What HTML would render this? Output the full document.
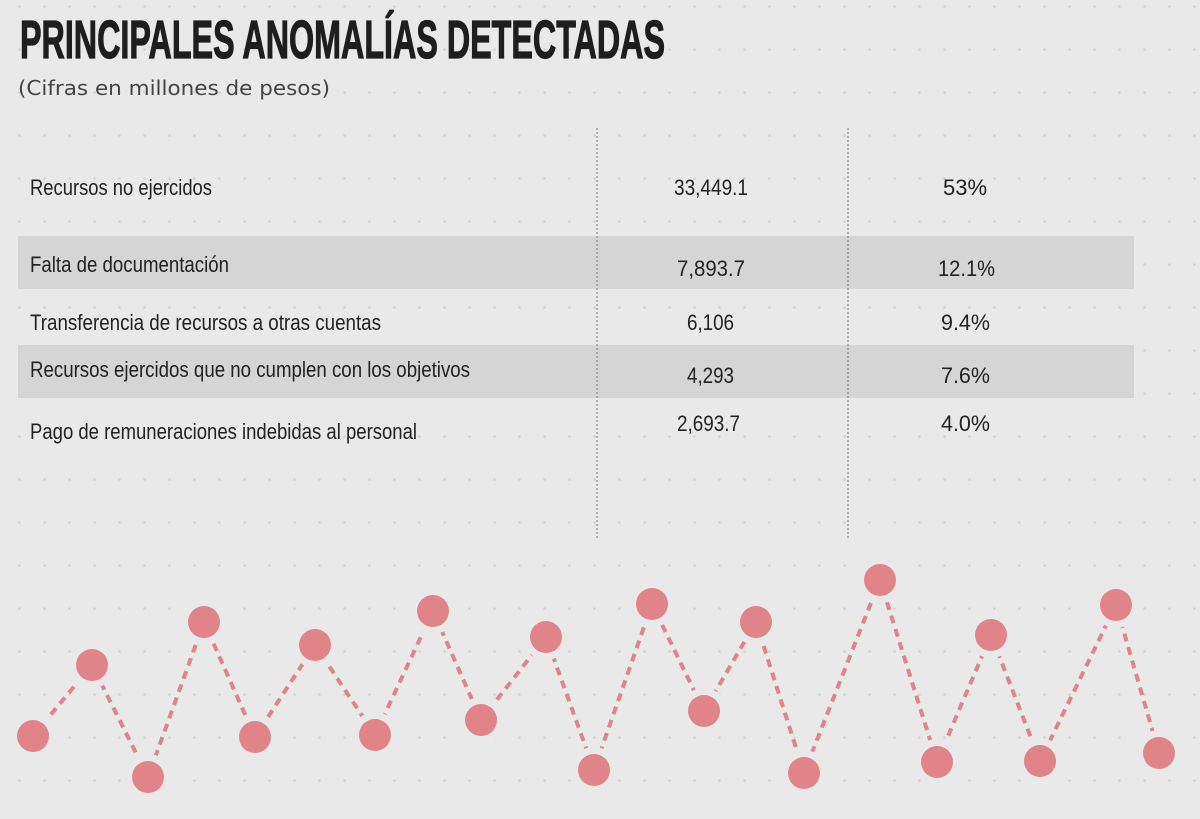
<!DOCTYPE html>
<html><head><meta charset="utf-8"><style>
html,body{margin:0;padding:0;background:#e9e9ea;}
svg{display:block;}
</style></head><body>
<svg width="1200" height="819" viewBox="0 0 1200 819" xmlns="http://www.w3.org/2000/svg">
<defs>
<pattern id="dots" x="18" y="5" width="25" height="43" patternUnits="userSpaceOnUse">
<circle cx="1.5" cy="1.5" r="1.3" fill="#d2d2d4"/>
</pattern>
</defs>
<rect width="1200" height="819" fill="#e9e9ea"/>
<rect width="1200" height="819" fill="url(#dots)"/>
<text x="20" y="58" font-family="Liberation Sans, sans-serif" font-weight="bold" font-size="54" fill="#1e1e1e" stroke="#1e1e1e" stroke-width="1.2" textLength="645" lengthAdjust="spacingAndGlyphs">PRINCIPALES ANOMALÍAS DETECTADAS</text>
<text x="18" y="95" font-family="DejaVu Sans, sans-serif" font-size="20" fill="#444" textLength="312" lengthAdjust="spacingAndGlyphs">(Cifras en millones de pesos)</text>
<rect x="18" y="236" width="1116" height="53" fill="#d5d5d6"/>
<rect x="18" y="345" width="1116" height="53" fill="#d5d5d6"/>
<line x1="597" y1="128" x2="597" y2="540" stroke="#777" stroke-width="1" stroke-dasharray="2,2"/>
<line x1="848" y1="128" x2="848" y2="540" stroke="#777" stroke-width="1" stroke-dasharray="2,2"/>
<g font-family="Liberation Sans, sans-serif" font-size="22" fill="#222">
<text x="30" y="195" textLength="182" lengthAdjust="spacingAndGlyphs">Recursos no ejercidos</text>
<text x="30" y="272" textLength="199" lengthAdjust="spacingAndGlyphs">Falta de documentación</text>
<text x="30" y="330" textLength="351" lengthAdjust="spacingAndGlyphs">Transferencia de recursos a otras cuentas</text>
<text x="30" y="377" textLength="440" lengthAdjust="spacingAndGlyphs">Recursos ejercidos que no cumplen con los objetivos</text>
<text x="30" y="439" textLength="387" lengthAdjust="spacingAndGlyphs">Pago de remuneraciones indebidas al personal</text>
<text x="674" y="195" textLength="74" lengthAdjust="spacingAndGlyphs">33,449.1</text>
<text x="677" y="276" textLength="68" lengthAdjust="spacingAndGlyphs">7,893.7</text>
<text x="687" y="330" textLength="47" lengthAdjust="spacingAndGlyphs">6,106</text>
<text x="687" y="383" textLength="47" lengthAdjust="spacingAndGlyphs">4,293</text>
<text x="677" y="431" textLength="63" lengthAdjust="spacingAndGlyphs">2,693.7</text>
<text x="943" y="195" textLength="44" lengthAdjust="spacingAndGlyphs">53%</text>
<text x="938" y="276" textLength="57" lengthAdjust="spacingAndGlyphs">12.1%</text>
<text x="941" y="330" textLength="49" lengthAdjust="spacingAndGlyphs">9.4%</text>
<text x="941" y="383" textLength="49" lengthAdjust="spacingAndGlyphs">7.6%</text>
<text x="941" y="431" textLength="49" lengthAdjust="spacingAndGlyphs">4.0%</text>
</g>
<polyline fill="none" stroke="#e0848a" stroke-width="4" stroke-dasharray="8,6" points="33,736 92,665 148,777 204,622 255,737 315,645 375,735 433,611 481,720 546,637 594,770 652,604 704,711 756,622 804,773 880,580 937,762 991,635 1040,761 1116,605 1159,753"/>
<g fill="#e0848a" stroke="#e9e9ea" stroke-width="14" paint-order="stroke">
<circle cx="33" cy="736" r="16"/><circle cx="92" cy="665" r="16"/><circle cx="148" cy="777" r="16"/><circle cx="204" cy="622" r="16"/><circle cx="255" cy="737" r="16"/><circle cx="315" cy="645" r="16"/><circle cx="375" cy="735" r="16"/><circle cx="433" cy="611" r="16"/><circle cx="481" cy="720" r="16"/><circle cx="546" cy="637" r="16"/><circle cx="594" cy="770" r="16"/><circle cx="652" cy="604" r="16"/><circle cx="704" cy="711" r="16"/><circle cx="756" cy="622" r="16"/><circle cx="804" cy="773" r="16"/><circle cx="880" cy="580" r="16"/><circle cx="937" cy="762" r="16"/><circle cx="991" cy="635" r="16"/><circle cx="1040" cy="761" r="16"/><circle cx="1116" cy="605" r="16"/><circle cx="1159" cy="753" r="16"/>
</g>
</svg>
</body></html>
